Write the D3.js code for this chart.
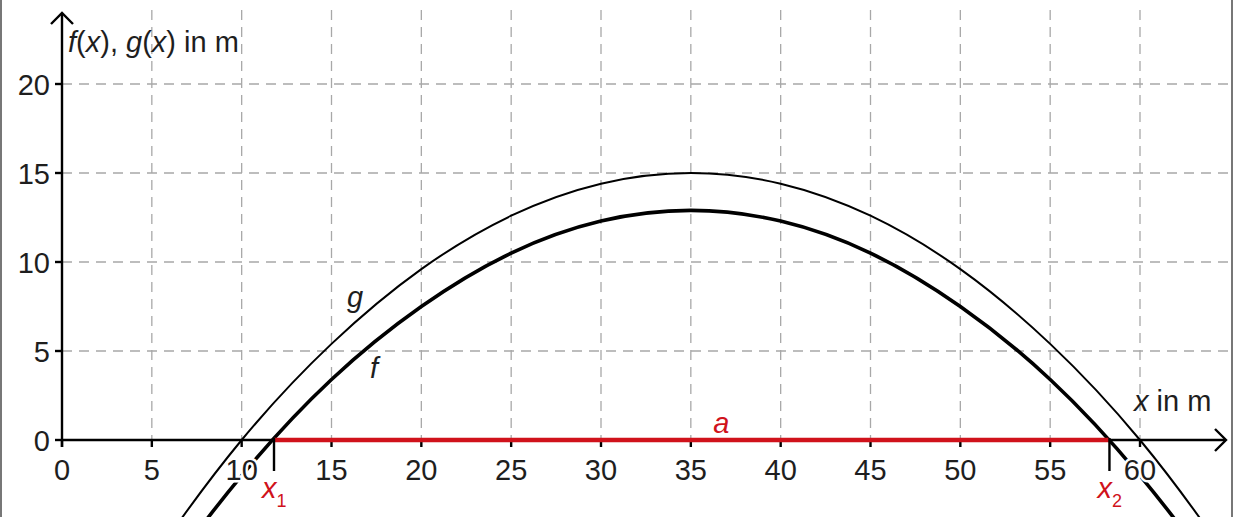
<!DOCTYPE html>
<html><head><meta charset="utf-8">
<script src="https://cdn.jsdelivr.net/npm/d3@7"></script>
<style>
html,body{margin:0;padding:0;background:#fff;}
svg text{font-family:"Liberation Sans",Arial,sans-serif;}
</style></head>
<body>
<svg id="c" width="1233" height="517"></svg>
<script>
// ---- data ----
const xTicks = [0,5,10,15,20,25,30,35,40,45,50,55,60];
const yTicks = [0,5,10,15,20];
const curveXs = [0,5,10,15,20,25,30,35,40,45,50,55,60,65,70];
const gValues = [-14.6,-6.8,0,5.4,9.6,12.6,14.4,15,14.4,12.6,9.6,5.4,0,-6.8,-14.6];
const fValues = [-16.4,-8.7,-2.0,3.4,7.5,10.5,12.3,12.9,12.3,10.5,7.5,3.4,-2.0,-8.7,-16.4];
const x1Value = 11.8, x2Value = 58.3;

// ---- scales ----
const svg = d3.select("#c");
const x = d3.scaleLinear().domain([0,60]).range([62,1140]);
const y = d3.scaleLinear().domain([0,20]).range([440,84]);

// frame
svg.append("line").attr("x1",1).attr("x2",1).attr("y1",0).attr("y2",517).attr("stroke","#555").attr("stroke-width",1.6);
svg.append("line").attr("x1",1232).attr("x2",1232).attr("y1",0).attr("y2",517).attr("stroke","#555").attr("stroke-width",1.6);

// grid
const grid = svg.append("g").attr("stroke","#a8a8a8").attr("stroke-width",1.3).attr("stroke-dasharray","10,7");
grid.selectAll("line.v").data(xTicks.filter(d=>d>0)).join("line")
  .attr("x1",d=>x(d)).attr("x2",d=>x(d)).attr("y1",10).attr("y2",y(0));
grid.selectAll("line.h").data(yTicks.filter(d=>d>0)).join("line")
  .attr("x1",x(0)).attr("x2",1232).attr("y1",d=>y(d)).attr("y2",d=>y(d));

// curves
const line = d3.line().x(d=>x(d[0])).y(d=>y(d[1])).curve(d3.curveNatural);
svg.append("path").datum(curveXs.map((v,i)=>[v,gValues[i]])).attr("d",line)
  .attr("fill","none").attr("stroke","#000").attr("stroke-width",2);
svg.append("path").datum(curveXs.map((v,i)=>[v,fValues[i]])).attr("d",line)
  .attr("fill","none").attr("stroke","#000").attr("stroke-width",3.6);

// axes
const ax = svg.append("g").attr("stroke","#000").attr("stroke-width",2.4).attr("fill","none");
ax.append("line").attr("x1",x(0)).attr("x2",1226).attr("y1",y(0)).attr("y2",y(0));
ax.append("line").attr("x1",x(0)).attr("x2",x(0)).attr("y1",447).attr("y2",13);
ax.append("path").attr("d",`M1215,429 L1226,440 L1215,451`);
ax.append("path").attr("d",`M51,24 L62,13 L73,24`);
ax.selectAll("line.xt").data(xTicks).join("line")
  .attr("x1",d=>x(d)).attr("x2",d=>x(d)).attr("y1",y(0)).attr("y2",y(0)+7);
ax.selectAll("line.yt").data(yTicks).join("line")
  .attr("x1",x(0)-7).attr("x2",x(0)).attr("y1",d=>y(d)).attr("y2",d=>y(d));

// red segment a (on top of axis)
svg.append("line").attr("x1",x(x1Value)).attr("x2",x(x2Value)).attr("y1",y(0)).attr("y2",y(0))
  .attr("stroke","#d0121b").attr("stroke-width",4.5);

// x1, x2 markers
[x1Value,x2Value].forEach(v=>{
  svg.append("line").attr("x1",x(v)).attr("x2",x(v)).attr("y1",y(0)-2).attr("y2",471)
    .attr("stroke","#000").attr("stroke-width",2.4);
});

// tick labels (white halo)
const fs = 29;
const txt = "#1e1e1e";
svg.selectAll("text.xl").data(xTicks).join("text")
  .attr("x",d=>x(d)).attr("y",480).attr("text-anchor","middle").attr("font-size",fs)
  .attr("fill",txt).attr("stroke","#fff").attr("stroke-width",5).attr("paint-order","stroke")
  .text(d=>d);
svg.selectAll("text.yl").data(yTicks).join("text")
  .attr("x",50).attr("y",d=>y(d)+10.5).attr("text-anchor","end").attr("font-size",fs)
  .attr("fill",txt).text(d=>d);

// axis titles
const yt = svg.append("text").attr("x",68).attr("y",52).attr("font-size",fs).attr("fill",txt);
yt.append("tspan").attr("font-style","italic").text("f");
yt.append("tspan").text("(");
yt.append("tspan").attr("font-style","italic").text("x");
yt.append("tspan").text("), ");
yt.append("tspan").attr("font-style","italic").text("g");
yt.append("tspan").text("(");
yt.append("tspan").attr("font-style","italic").text("x");
yt.append("tspan").text(") in m");

const xt = svg.append("text").attr("x",1134).attr("y",411).attr("font-size",fs).attr("fill",txt);
xt.append("tspan").attr("font-style","italic").text("x");
xt.append("tspan").text(" in m");

// curve labels
svg.append("text").attr("x",347).attr("y",307).attr("font-size",fs).attr("font-style","italic").attr("fill",txt).text("g");
svg.append("text").attr("x",370).attr("y",378).attr("font-size",fs).attr("font-style","italic").attr("fill",txt).text("f");

// red labels
const red = "#d0121b";
svg.append("text").attr("x",x(36.7)).attr("y",433).attr("text-anchor","middle")
  .attr("font-size",fs).attr("font-style","italic").attr("fill",red).text("a");
[[x1Value,"1"],[x2Value,"2"]].forEach(([v,s])=>{
  const t = svg.append("text").attr("x",x(v)-12).attr("y",498).attr("font-size",fs).attr("fill",red)
    .attr("stroke","#fff").attr("stroke-width",5).attr("paint-order","stroke");
  t.append("tspan").attr("font-style","italic").text("x");
  t.append("tspan").attr("font-size",18).attr("dy",9).text(s);
});
</script>
</body></html>
